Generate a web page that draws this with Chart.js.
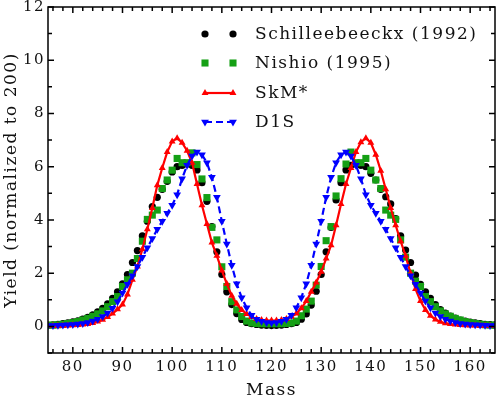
<!DOCTYPE html>
<html>
<head>
<meta charset="utf-8">
<script src="https://cdn.jsdelivr.net/npm/chart.js@4/dist/chart.umd.min.js"></script>
<style>
  html, body { margin: 0; padding: 0; background: #fff; }
</style>
</head>
<body>
<canvas id="yieldChart" width="496" height="397"></canvas>
<script>
// mass numbers, one point per mass unit
const masses = [
  75, 76, 77, 78, 79, 80, 81, 82, 83, 84,
  85, 86, 87, 88, 89, 90, 91, 92, 93, 94,
  95, 96, 97, 98, 99, 100, 101, 102, 103, 104,
  105, 106, 107, 108, 109, 110, 111, 112, 113, 114,
  115, 116, 117, 118, 119, 120, 121, 122, 123, 124,
  125, 126, 127, 128, 129, 130, 131, 132, 133, 134,
  135, 136, 137, 138, 139, 140, 141, 142, 143, 144,
  145, 146, 147, 148, 149, 150, 151, 152, 153, 154,
  155, 156, 157, 158, 159, 160, 161, 162, 163, 164, 165
];

const schilleebeeckx = [
  0.05, 0.06, 0.08, 0.10, 0.13, 0.17, 0.21, 0.27, 0.34, 0.43,
  0.55, 0.68, 0.85, 1.05, 1.30, 1.60, 1.95, 2.40, 2.85, 3.40,
  3.95, 4.50, 4.85, 5.15, 5.45, 5.80, 6.00, 6.05, 6.10, 6.05,
  5.88, 5.40, 4.70, 3.75, 2.80, 1.95, 1.30, 0.82, 0.48, 0.26,
  0.15, 0.10, 0.07, 0.05, 0.04, 0.03, 0.04, 0.05, 0.07, 0.10,
  0.15, 0.27, 0.47, 0.80, 1.32, 1.95, 2.80, 3.72, 4.75, 5.40,
  5.88, 6.05, 6.10, 6.05, 6.00, 5.75, 5.50, 5.15, 4.87, 4.60,
  4.05, 3.40, 2.87, 2.40, 1.93, 1.58, 1.30, 1.05, 0.82, 0.63,
  0.50, 0.39, 0.31, 0.24, 0.20, 0.16, 0.13, 0.10, 0.08, 0.07, 0.06
];

const nishio = [
  0.04, 0.05, 0.06, 0.08, 0.11, 0.14, 0.18, 0.24, 0.30, 0.38,
  0.47, 0.58, 0.74, 0.93, 1.12, 1.50, 1.75, 2.00, 2.55, 3.20,
  4.02, 4.18, 4.37, 5.18, 5.50, 5.87, 6.31, 6.15, 6.15, 6.52,
  6.08, 5.54, 4.84, 3.72, 3.25, 2.24, 1.50, 0.93, 0.62, 0.37,
  0.20, 0.13, 0.11, 0.10, 0.10, 0.10, 0.10, 0.10, 0.11, 0.13,
  0.20, 0.40, 0.65, 0.95, 1.55, 2.25, 3.22, 3.75, 4.90, 5.55,
  6.10, 6.55, 6.15, 6.15, 6.31, 5.87, 5.50, 5.18, 4.37, 4.18,
  4.02, 3.25, 2.60, 2.00, 1.70, 1.50, 1.12, 0.93, 0.74, 0.58,
  0.47, 0.38, 0.30, 0.24, 0.18, 0.14, 0.11, 0.08, 0.06, 0.05, 0.04
];

const skmStar = [
  0.01, 0.01, 0.02, 0.02, 0.03, 0.04, 0.05, 0.07, 0.09, 0.13,
  0.18, 0.25, 0.35, 0.48, 0.64, 0.82, 1.20, 1.75, 2.25, 2.90,
  3.65, 4.45, 5.30, 5.95, 6.55, 6.95, 7.07, 6.90, 6.60, 6.15,
  5.35, 4.55, 3.85, 3.15, 2.65, 2.10, 1.60, 1.15, 0.85, 0.62,
  0.47, 0.35, 0.28, 0.24, 0.22, 0.22, 0.22, 0.24, 0.28, 0.36,
  0.48, 0.68, 0.95, 1.30, 1.65, 2.05, 2.55, 3.05, 3.80, 4.60,
  5.35, 5.95, 6.55, 6.92, 7.07, 6.90, 6.45, 5.85, 5.15, 4.45,
  3.80, 3.20, 2.65, 2.00, 1.40, 0.95, 0.62, 0.40, 0.26, 0.17,
  0.12, 0.09, 0.07, 0.05, 0.04, 0.03, 0.03, 0.02, 0.02, 0.01, 0.01
];

const d1s = [
  0.03, 0.03, 0.04, 0.05, 0.06, 0.07, 0.09, 0.11, 0.15, 0.20,
  0.27, 0.37, 0.50, 0.68, 0.93, 1.25, 1.58, 1.90, 2.25, 2.60,
  2.95, 3.30, 3.65, 3.95, 4.25, 4.55, 4.95, 5.55, 6.05, 6.40,
  6.55, 6.45, 6.15, 5.60, 4.85, 3.95, 3.10, 2.30, 1.60, 1.08,
  0.70, 0.42, 0.27, 0.19, 0.15, 0.14, 0.15, 0.19, 0.27, 0.42,
  0.70, 1.08, 1.60, 2.30, 3.10, 3.95, 4.85, 5.60, 6.15, 6.45,
  6.55, 6.40, 6.05, 5.55, 4.95, 4.55, 4.25, 3.95, 3.65, 3.30,
  2.95, 2.60, 2.25, 1.90, 1.58, 1.25, 0.95, 0.70, 0.50, 0.37,
  0.27, 0.20, 0.15, 0.11, 0.09, 0.07, 0.06, 0.05, 0.04, 0.03, 0.03
];

const xTickLabels = [80, 90, 100, 110, 120, 130, 140, 150, 160];
const yTickLabels = [0, 2, 4, 6, 8, 10, 12];
const legendOrder = ['Schilleebeeckx (1992)', 'Nishio (1995)', 'SkM*', 'D1S'];

const FONT = "'DejaVu Serif', serif";

function pts(values) {
  return masses.map((m, i) => ({ x: m, y: values[i] }));
}

// box round the plot with inward ticks on all four sides
const framePlugin = {
  id: 'frame',
  afterDatasetsDraw(chart) {
    const { ctx, chartArea: a, scales: { x, y } } = chart;
    ctx.save();
    ctx.strokeStyle = '#000';
    ctx.lineWidth = 1.5;
    ctx.strokeRect(a.left, a.top, a.right - a.left, a.bottom - a.top);
    ctx.beginPath();
    for (let v = 76; v <= 164; v += 2) {
      const px = x.getPixelForValue(v);
      const len = v % 10 === 0 ? 6 : 4;
      ctx.moveTo(px, a.bottom); ctx.lineTo(px, a.bottom - len);
      ctx.moveTo(px, a.top); ctx.lineTo(px, a.top + len);
    }
    for (let v = -1; v <= 12; v++) {
      const py = y.getPixelForValue(v);
      const len = v % 2 === 0 ? 6 : 4;
      ctx.moveTo(a.left, py); ctx.lineTo(a.left + len, py);
      ctx.moveTo(a.right, py); ctx.lineTo(a.right - len, py);
    }
    ctx.stroke();
    ctx.restore();
  }
};

// legend inside the plot, symbol pair + text
const legendPlugin = {
  id: 'insideLegend',
  afterDraw(chart) {
    const ctx = chart.ctx;
    const rowsY = [34, 63, 93, 122];
    const x1 = 205, x2 = 233, textX = 255;
    ctx.save();
    legendOrder.forEach((label, i) => {
      const ds = chart.data.datasets.find(d => d.label === label);
      const yy = rowsY[i];
      if (ds.showLine !== false) {
        ctx.beginPath();
        ctx.strokeStyle = ds.borderColor;
        ctx.lineWidth = ds.borderWidth;
        ctx.setLineDash(ds.borderDash || []);
        ctx.moveTo(x1, yy);
        ctx.lineTo(x2, yy);
        ctx.stroke();
        ctx.setLineDash([]);
      }
      ctx.fillStyle = ds.pointBackgroundColor;
      ctx.strokeStyle = ds.pointBorderColor;
      [x1, x2].forEach(px => {
        Chart.helpers.drawPoint(ctx, {
          pointStyle: ds.pointStyle,
          radius: ds.pointRadius,
          rotation: ds.pointRotation || 0,
          borderWidth: ds.pointBorderWidth
        }, px, yy);
      });
      ctx.fillStyle = '#111';
      ctx.font = '17px ' + FONT;
      ctx.letterSpacing = '1.5px';
      ctx.textBaseline = 'middle';
      ctx.textAlign = 'left';
      ctx.fillText(label, textX, yy + 1);
    });
    ctx.restore();
  }
};

const spacingPlugin = {
  id: 'spacing',
  beforeDraw(chart) {
    chart.ctx.letterSpacing = '1.5px';
  }
};

const ctx = document.getElementById('yieldChart').getContext('2d');
new Chart(ctx, {
  type: 'line',
  data: {
    datasets: [
      {
        label: 'D1S',
        data: pts(d1s),
        order: 1,
        borderColor: '#0000ff',
        borderWidth: 2.2,
        borderDash: [7, 4],
        pointStyle: 'triangle',
        pointRotation: 180,
        pointRadius: 4.5,
        pointBorderWidth: 0,
        pointBackgroundColor: '#0000ff',
        pointBorderColor: '#0000ff',
        tension: 0
      },
      {
        label: 'SkM*',
        data: pts(skmStar),
        order: 2,
        borderColor: '#ff0000',
        borderWidth: 2.2,
        pointStyle: 'triangle',
        pointRadius: 4,
        pointBorderWidth: 0,
        pointBackgroundColor: '#ff0000',
        pointBorderColor: '#ff0000',
        tension: 0
      },
      {
        label: 'Nishio (1995)',
        data: pts(nishio),
        order: 3,
        showLine: false,
        pointStyle: 'rect',
        pointRadius: 5,
        pointBorderWidth: 0,
        pointBackgroundColor: '#15a015',
        pointBorderColor: '#15a015'
      },
      {
        label: 'Schilleebeeckx (1992)',
        data: pts(schilleebeeckx),
        order: 4,
        showLine: false,
        pointStyle: 'circle',
        pointRadius: 3.6,
        pointBorderWidth: 0,
        pointBackgroundColor: '#000000',
        pointBorderColor: '#000000'
      }
    ]
  },
  options: {
    responsive: false,
    devicePixelRatio: 1,
    animation: false,
    layout: { autoPadding: false, padding: { top: 7, right: 1, left: 0, bottom: 0 } },
    plugins: {
      legend: { display: false },
      tooltip: { enabled: false }
    },
    scales: {
      x: {
        type: 'linear',
        min: 75,
        max: 165,
        grid: { display: false, drawTicks: false },
        border: { display: false },
        afterBuildTicks: s => { s.ticks = xTickLabels.map(v => ({ value: v })); },
        afterFit: s => { s.height = 44; s.paddingLeft = 0; s.paddingRight = 0; },
        ticks: { color: '#111', padding: 5, maxRotation: 0, autoSkip: false, font: { family: FONT, size: 15 } },
        title: { display: true, text: 'Mass', color: '#111', padding: { top: 0, bottom: -4 }, font: { family: FONT, size: 17 } }
      },
      y: {
        min: -1,
        max: 12,
        grid: { display: false, drawTicks: false },
        border: { display: false },
        afterBuildTicks: s => { s.ticks = yTickLabels.map(v => ({ value: v })); },
        afterFit: s => { s.width = 48; s.paddingTop = 0; s.paddingBottom = 0; },
        ticks: { color: '#111', padding: 3, autoSkip: false, font: { family: FONT, size: 15 } },
        title: { display: true, text: 'Yield (normalized to 200)', color: '#111', padding: { top: 1, bottom: 0 }, font: { family: FONT, size: 17 } }
      }
    }
  },
  plugins: [spacingPlugin, framePlugin, legendPlugin]
});
</script>
</body>
</html>
